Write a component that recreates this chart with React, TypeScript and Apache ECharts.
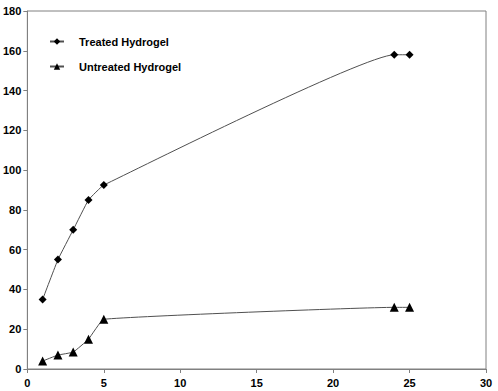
import React, { useEffect, useRef } from "react";
import * as echarts from "echarts";

const timeTreated = [1, 2, 3, 4, 5, 24, 25];
const treatedValues = [35, 55, 70, 85, 92.5, 158, 158];
const timeUntreated = [1, 2, 3, 4, 5, 24, 25];
const untreatedValues = [4, 7, 8.5, 15, 25, 31, 31];
const seriesNames = ["Treated Hydrogel", "Untreated Hydrogel"];

export default function App() {
  const ref = useRef<HTMLDivElement>(null);
  useEffect(() => {
    if (!ref.current) return;
    const chart = echarts.init(ref.current, null, { renderer: "svg" });
    const font = "'Liberation Sans', Arial, sans-serif";
    const axisCommon = {
      axisLine: { show: true, lineStyle: { color: "#808080", width: 1 } },
      axisTick: { show: true, inside: false, length: 4, lineStyle: { color: "#808080" } },
      splitLine: { show: false },
      axisLabel: { color: "#000", fontFamily: font, fontWeight: "bold", fontSize: 11 },
    };
    chart.setOption({
      animation: false,
      backgroundColor: "#fff",
      grid: { left: 25, right: 12, top: 11, bottom: 22, show: true, borderColor: "#808080", borderWidth: 1 },
      xAxis: { type: "value", min: 0, max: 30, interval: 5, ...axisCommon, axisLabel: { ...axisCommon.axisLabel, margin: 8 } },
      yAxis: { type: "value", min: 0, max: 180, interval: 20, ...axisCommon, axisLabel: { ...axisCommon.axisLabel, margin: 6 } },
      legend: {
        orient: "vertical",
        left: 44,
        top: 31,
        itemWidth: 14,
        itemHeight: 8,
        itemGap: 14,
        textStyle: { fontFamily: font, fontWeight: "bold", fontSize: 11, color: "#000", padding: [0, 0, 0, 10] },
        data: seriesNames,
      },
      series: [
        {
          name: seriesNames[0],
          type: "line",
          smooth: 0.1,
          data: timeTreated.map((t, i) => [t, treatedValues[i]]),
          symbol: "diamond",
          symbolSize: 8,
          itemStyle: { color: "#000" },
          lineStyle: { color: "#505050", width: 1 },
        },
        {
          name: seriesNames[1],
          type: "line",
          smooth: 0.1,
          data: timeUntreated.map((t, i) => [t, untreatedValues[i]]),
          symbol: "triangle",
          symbolSize: 9,
          itemStyle: { color: "#000" },
          lineStyle: { color: "#505050", width: 1 },
        },
      ],
    });
    return () => chart.dispose();
  }, []);
  return <div ref={ref} style={{ width: 498, height: 391, position: "absolute", left: 0, top: 0 }} />;
}
